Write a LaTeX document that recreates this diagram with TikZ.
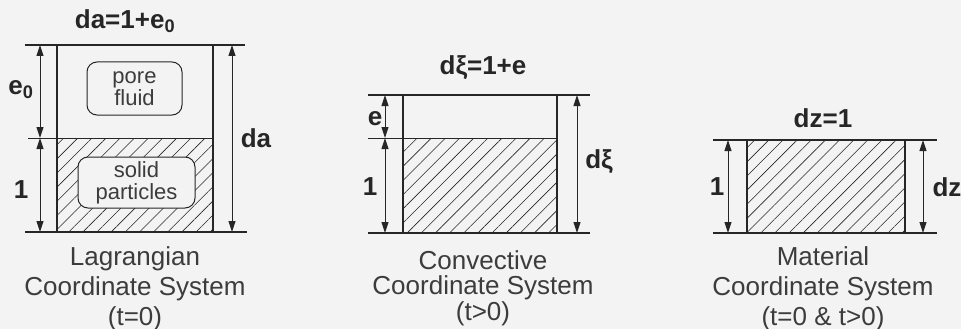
\documentclass[tikz,border=0pt]{standalone}
\usepackage{fontspec}
\setmainfont{Liberation Sans}
\usetikzlibrary{arrows.meta, patterns.meta, positioning}
\definecolor{inkgray}{HTML}{262626}
\definecolor{capgray}{HTML}{3c3c3c}
\definecolor{paper}{HTML}{F3F3F3}

\begin{document}
\begin{tikzpicture}[
			x=1pt, y=-1pt,
			color=inkgray,
			edge/.style={line width=1.8pt},
			wall/.style={line width=1.4pt},
			split/.style={line width=1pt},
			dim/.style={{Triangle[length=11pt,width=7pt]}-{Triangle[length=11pt,width=7pt]}, line width=1pt},
			hatch/.style={pattern={Lines[angle=45,distance=10pt,line width=0.6pt]}, pattern color=inkgray},
			lbl/.style={font=\fontsize{26}{28}\selectfont\bfseries, text=inkgray, inner sep=0pt},
			sysname/.style={font=\fontsize{26}{30}\selectfont, text=capgray, align=center, inner sep=0pt, anchor=north},
			phase/.style={draw=inkgray, line width=1pt, fill=paper, rounded corners=10pt, align=center,
				font=\fontsize{22}{22}\selectfont, text=capgray, inner sep=0pt}
			]

			\fill[paper] (0,0) rectangle (961,329);
			\useasboundingbox (0,0) rectangle (961,329);

			% Lagrangian
			\fill[hatch] (57,138) rectangle (213,232);
			\draw[edge] (25,45) -- (245,45);
			\draw[edge] (25,232) -- (247,232);
			\draw[split] (28,138) -- (213,138);
			\draw[wall] (57,45) -- (57,232) (213,45) -- (213,232);
			\node[phase, minimum width=95, minimum height=53] (pore) at (134.5,88.5) {pore\\fluid};
			\node[phase, minimum width=117, minimum height=51] (solid) at (136.5,182.5) {solid\\particles};

			\coordinate (la-top) at (40,45);
			\coordinate (la-mid) at (40,138);
			\coordinate (la-bot) at (40,232);
			\coordinate (la-rtop) at (232,45);
			\coordinate (la-rbot) at (232,232);
			\foreach \a/\b in {la-top/la-mid, la-mid/la-bot, la-rtop/la-rbot} {
				\draw[dim] (\a) -- (\b);
			}

			\node[lbl] (la-sum) at (125,21) {da=1+e\textsubscript{0}};
			\node[lbl] (la-void) at (21,90) {e\textsubscript{0}};
			\node[lbl] (la-one) at (21,190) {1};
			\node[lbl] (la-da) at (256,138) {da};
			\node[sysname] (la-cap) at (135,246) {Lagrangian\\Coordinate System\\(t=0)};

			% Convective
			\fill[hatch] (403,138) rectangle (557,233);
			\draw[edge] (368,95) -- (590,95);
			\draw[edge] (368,233) -- (590,233);
			\draw[split] (368,138) -- (557,138);
			\draw[wall] (403,95) -- (403,233) (557,95) -- (557,233);

			\coordinate (cv-top) at (385,95);
			\coordinate (cv-mid) at (385,138);
			\coordinate (cv-bot) at (385,233);
			\coordinate (cv-rtop) at (577,95);
			\coordinate (cv-rbot) at (577,233);
			\foreach \a/\b in {cv-top/cv-mid, cv-mid/cv-bot, cv-rtop/cv-rbot} {
				\draw[dim] (\a) -- (\b);
			}

			\node[lbl] (cv-sum) at (483,68) {dξ=1+e};
			\node[lbl] (cv-void) at (375,119) {e};
			\node[lbl] (cv-one) at (370,187) {1};
			\node[lbl] (cv-dxi) at (599,162) {dξ};
			\node[sysname, font=\fontsize{26}{25.5}\selectfont] (cv-cap) at (483,250) {Convective\\Coordinate System\\(t>0)};

			% Material
			\fill[hatch] (747,140) rectangle (905,233);
			\draw[edge] (713,140) -- (937,140);
			\draw[edge] (713,233) -- (937,233);
			\draw[wall] (747,140) -- (747,233) (905,140) -- (905,233);

			\coordinate (ma-top) at (728,140);
			\coordinate (ma-bot) at (728,233);
			\coordinate (ma-rtop) at (923,140);
			\coordinate (ma-rbot) at (923,233);
			\foreach \a/\b in {ma-top/ma-bot, ma-rtop/ma-rbot} {
				\draw[dim] (\a) -- (\b);
			}

			\node[lbl] (ma-sum) at (823,118) {dz=1};
			\node[lbl] (ma-one) at (717,187) {1};
			\node[lbl] (ma-dz) at (947,187) {dz};
			\node[sysname] (ma-cap) at (823,246) {Material\\Coordinate System\\(t=0 \& t>0)};

		\end{tikzpicture}
\end{document}
